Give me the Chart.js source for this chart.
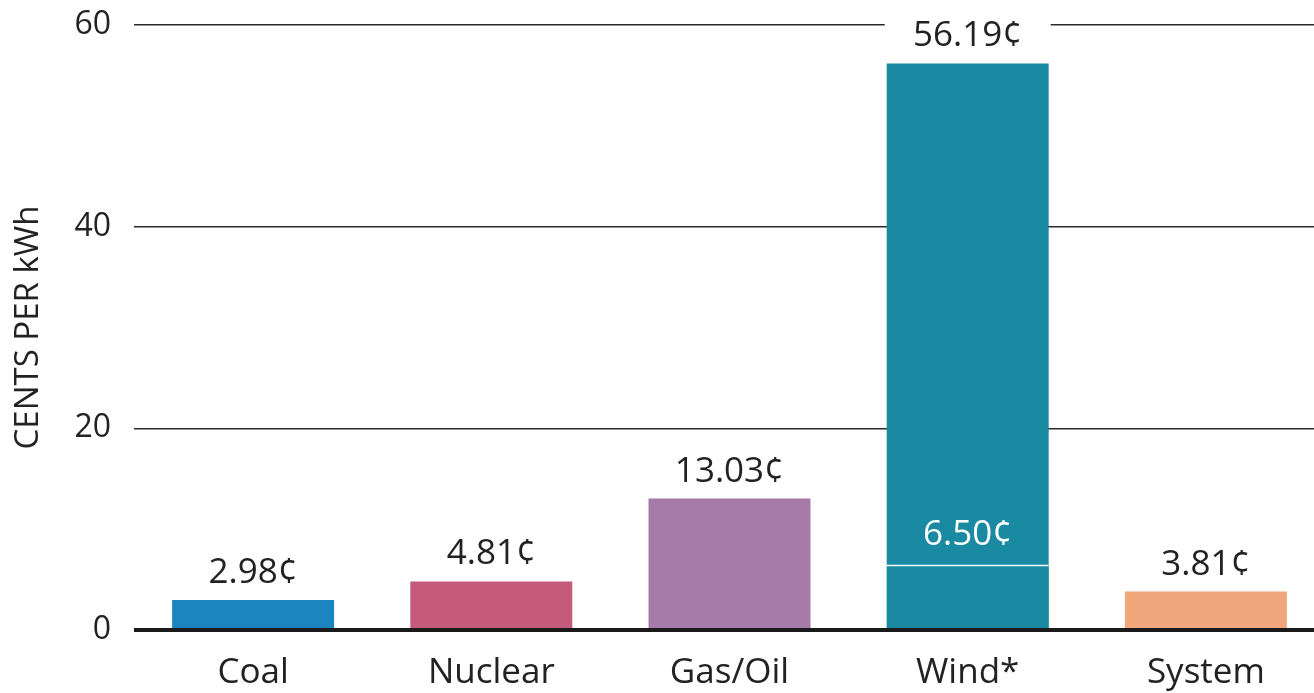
<!DOCTYPE html>
<html>
<head>
<meta charset="utf-8">
<script src="https://cdn.jsdelivr.net/npm/chart.js@4/dist/chart.umd.min.js"></script>
<style>
  html, body { margin: 0; padding: 0; background: #ffffff; overflow: hidden; }
  #wrap { width: 1314px; height: 693px; position: relative; overflow: hidden; }
</style>
</head>
<body>
<div id="wrap"><canvas id="c" width="1325" height="693"></canvas></div>
<script>
// Cost of generation by source, cents per kWh
const categories = ['Coal', 'Nuclear', 'Gas/Oil', 'Wind*', 'System'];
const totalCost = [2.98, 4.81, 13.03, 56.19, 3.81];
const windBaseCost = [null, null, null, 6.50, null];
const yTicks = [0, 20, 40, 60];

const barColors = ['#1c85bf', '#c65a7d', '#a67ba9', '#1a8aa2', '#f2a67b'];
const FONT = '"Open Sans", "DejaVu Sans", sans-serif';

const labelPlugin = {
  id: 'valueLabels',
  beforeDatasetsDraw(chart) {
    // clear the top grid line behind the tall column's label
    const ctx = chart.ctx;
    const meta = chart.getDatasetMeta(0);
    const i = totalCost.indexOf(Math.max(...totalCost));
    const bar = meta.data[i];
    const half = bar.width / 2;
    ctx.save();
    ctx.fillStyle = '#ffffff';
    ctx.fillRect(bar.x - half - 2, chart.chartArea.top - 6, bar.width + 4, bar.y - chart.chartArea.top + 6);
    ctx.restore();
  },
  afterDatasetsDraw(chart) {
    const ctx = chart.ctx;
    const y = chart.scales.y;
    const area = chart.chartArea;
    ctx.save();
    // baseline
    const y0 = y.getPixelForValue(0);
    ctx.fillStyle = '#1a1a1a';
    ctx.fillRect(area.left, y0 - 2, chart.width - area.left, 4);

    ctx.font = '35px ' + FONT;
    ctx.textAlign = 'center';
    ctx.textBaseline = 'alphabetic';
    const meta = chart.getDatasetMeta(0);
    totalCost.forEach((v, i) => {
      const bar = meta.data[i];
      ctx.fillStyle = '#222222';
      ctx.fillText(v.toFixed(2) + '\u00a2', bar.x, bar.y - 17);
    });
    const meta2 = chart.getDatasetMeta(1);
    windBaseCost.forEach((v, i) => {
      if (v == null) return;
      const bar = meta2.data[i];
      ctx.fillStyle = '#ffffff';
      ctx.fillText(v.toFixed(2) + '\u00a2', bar.x, bar.y - 19);
    });
    ctx.restore();
  }
};

new Chart(document.getElementById('c'), {
  type: 'bar',
  data: {
    labels: categories,
    datasets: [
      {
        data: totalCost,
        backgroundColor: barColors,
        borderWidth: 0,
        barPercentage: 0.68,
        categoryPercentage: 1.0,
        order: 2
      },
      {
        data: windBaseCost,
        backgroundColor: barColors,
        borderColor: '#ffffff',
        borderWidth: { top: 2, left: 0, right: 0, bottom: 0 },
        borderSkipped: 'bottom',
        barPercentage: 0.68,
        categoryPercentage: 1.0,
        order: 1
      }
    ]
  },
  options: {
    responsive: false,
    animation: false,
    devicePixelRatio: 1,
    layout: { padding: { top: 25, right: 0, left: 0, bottom: 0 } },
    plugins: { legend: { display: false }, tooltip: { enabled: false } },
    datasets: { bar: { grouped: false } },
    scales: {
      x: {
        grid: { display: false, drawTicks: false },
        border: { display: false },
        ticks: { color: '#222222', font: { family: FONT, size: 35 }, padding: 22 },
        afterFit(scale) { scale.height = 63; scale.paddingLeft = 0; scale.paddingRight = 0; }
      },
      y: {
        min: 0,
        max: 60,
        afterBuildTicks(scale) { scale.ticks = yTicks.map(v => ({ value: v })); },
        grid: {
          drawTicks: false,
          color: '#2a2a2a',
          lineWidth: (c) => (c.tick && c.tick.value === 0 ? 0 : 1.5)
        },
        border: { display: false },
        ticks: { color: '#222222', font: { family: FONT, size: 32 }, padding: 23 },
        title: {
          display: true,
          text: 'CENTS PER kWh',
          color: '#222222',
          font: { family: FONT, size: 33 },
          padding: { top: 9, bottom: 0 }
        },
        afterFit(scale) {
          scale.width = 134;
          scale.paddingTop = 0;
          scale.paddingBottom = 0;
        }
      }
    }
  },
  plugins: [labelPlugin]
});
</script>
</body>
</html>
